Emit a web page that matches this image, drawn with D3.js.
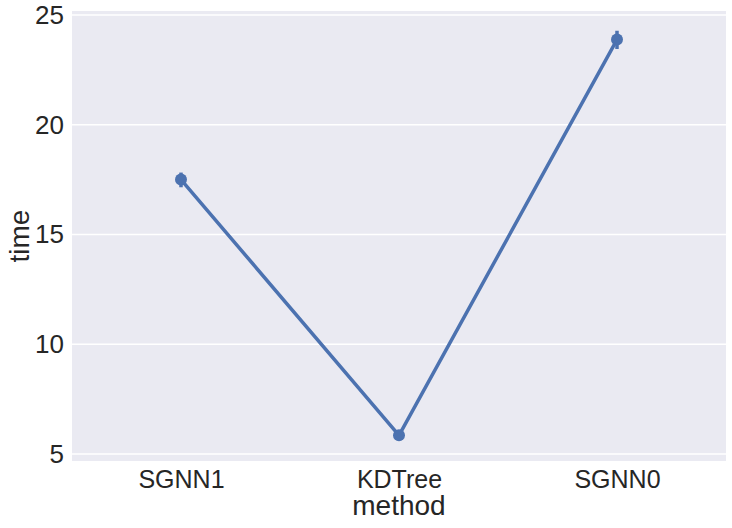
<!DOCTYPE html>
<html><head><meta charset="utf-8">
<script src="https://cdn.jsdelivr.net/npm/d3@7"></script>
<style>body{margin:0;background:#fff;} text{font-family:"Liberation Sans",Arial,sans-serif;fill:#262626;}</style>
</head><body>
<svg id="c" width="732" height="528"></svg>
<script>
const categories = ["SGNN1", "KDTree", "SGNN0"];
const means = [17.5, 5.85, 23.88];
const ciLow = [17.15, 5.75, 23.45];
const ciHigh = [17.82, 5.95, 24.28];
const yTicks = [5, 10, 15, 20, 25];

const svg = d3.select("#c");
const L = 72, R = 726, T = 11, B = 461;
const x = d3.scalePoint().domain(categories).range([L, R]).padding(0.5);
const y = d3.scaleLinear().domain([4.68, 25.18]).range([B, T]);

svg.append("rect").attr("x", L).attr("y", T).attr("width", R - L).attr("height", B - T).attr("fill", "#eaeaf2");
svg.append("g").selectAll("line").data(yTicks).join("line")
  .attr("x1", L).attr("x2", R).attr("y1", d => y(d)).attr("y2", d => y(d))
  .attr("stroke", "#fff").attr("stroke-width", 1.6);

const yAxis = svg.append("g").attr("transform", `translate(${L},0)`).call(d3.axisLeft(y).tickValues(yTicks).tickSize(0).tickPadding(8));
yAxis.select(".domain").remove();
yAxis.selectAll("text").style("font-size", "26px").attr("fill", "#262626");
const xAxis = svg.append("g").attr("transform", `translate(0,${B})`).call(d3.axisBottom(x).tickSize(0).tickPadding(9));
xAxis.select(".domain").remove();
xAxis.selectAll("text").style("font-size", "25px").attr("fill", "#262626");

const data = categories.map((c, i) => ({c, m: means[i], lo: ciLow[i], hi: ciHigh[i]}));
svg.append("path").datum(data)
  .attr("d", d3.line().x(d => x(d.c)).y(d => y(d.m)))
  .attr("fill", "none").attr("stroke", "#4c72b0").attr("stroke-width", 3.5).attr("stroke-linejoin", "round");
svg.append("g").selectAll("line").data(data).join("line")
  .attr("x1", d => x(d.c)).attr("x2", d => x(d.c)).attr("y1", d => y(d.lo)).attr("y2", d => y(d.hi))
  .attr("stroke", "#4c72b0").attr("stroke-width", 3.5);
svg.append("g").selectAll("circle").data(data).join("circle")
  .attr("cx", d => x(d.c)).attr("cy", d => y(d.m)).attr("r", 6).attr("fill", "#4c72b0");

svg.append("text").attr("x", (L + R) / 2).attr("y", 515).attr("text-anchor", "middle").style("font-size", "28px").text("method");
svg.append("text").attr("transform", `translate(29,${(T + B) / 2}) rotate(-90)`).attr("text-anchor", "middle").style("font-size", "28px").text("time");
</script>
</body></html>
